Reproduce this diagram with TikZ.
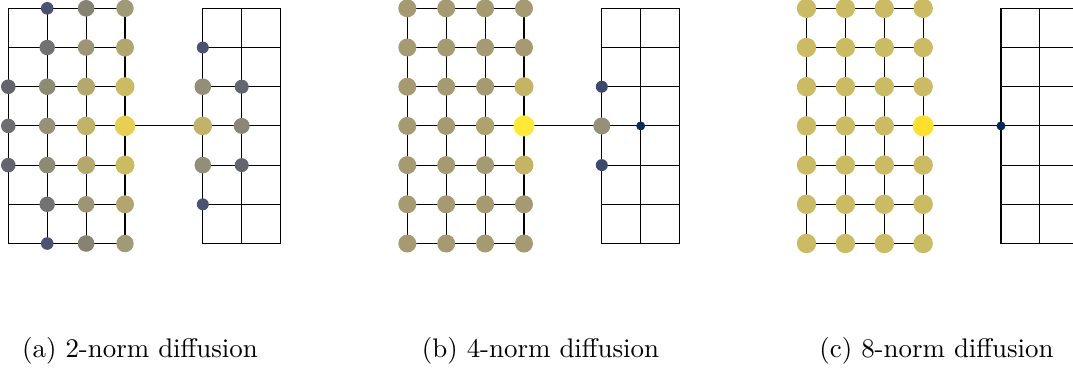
\documentclass[tikz,border=0pt]{standalone}
\definecolor{aA}{HTML}{4B5272}
\definecolor{aB}{HTML}{878372}
\definecolor{aC}{HTML}{A19A76}
\definecolor{aD}{HTML}{717274}
\definecolor{aE}{HTML}{9D9576}
\definecolor{aF}{HTML}{B2A66E}
\definecolor{aG}{HTML}{62646E}
\definecolor{aH}{HTML}{8E8A74}
\definecolor{aI}{HTML}{B5A86C}
\definecolor{aJ}{HTML}{CBBB62}
\definecolor{aK}{HTML}{6E6E70}
\definecolor{aL}{HTML}{999176}
\definecolor{aM}{HTML}{C2B36A}
\definecolor{aN}{HTML}{E6CF52}
\definecolor{aP}{HTML}{938E78}
\definecolor{aQ}{HTML}{C3B26A}
\definecolor{aR}{HTML}{62666F}
\definecolor{aS}{HTML}{8B8776}
\definecolor{bA}{HTML}{A59A72}
\definecolor{bB}{HTML}{C5B466}
\definecolor{bC}{HTML}{FFE838}
\definecolor{bD}{HTML}{AEA36E}
\definecolor{bE}{HTML}{3D4A6E}
\definecolor{bF}{HTML}{979079}
\definecolor{bG}{HTML}{0A2A5A}
\definecolor{cA}{HTML}{CBBB65}
\definecolor{cB}{HTML}{FFE030}
\definecolor{cC}{HTML}{00285A}
\tikzset{
  gridline/.style={line width=0.4pt, black},
  dot/.style 2 args={circle, fill=#1, draw=none, inner sep=0pt, minimum size=#2*0.7434pt},
  captext/.style={anchor=base, font=\normalsize},
  panelgrid/.style={x=14.459pt, y=-14.571pt}
}
\newcommand{\mkgrid}[1]{%
  \foreach \i in {0,...,3}{\foreach \j in {0,...,6}{\coordinate (#1-L-\i-\j) at (\i,\j);}}
  \foreach \i in {5,6,7}{\foreach \j in {0,...,6}{\coordinate (#1-R-\i-\j) at (\i,\j);}}
  \foreach \i in {0,...,3}{\draw[gridline] (#1-L-\i-0) -- (#1-L-\i-6);}
  \foreach \j in {0,...,6}{\draw[gridline] (#1-L-0-\j) -- (#1-L-3-\j);}
  \foreach \i in {5,6,7}{\draw[gridline] (#1-R-\i-0) -- (#1-R-\i-6);}
  \foreach \j in {0,...,6}{\draw[gridline] (#1-R-5-\j) -- (#1-R-7-\j);}
  \draw[gridline] (#1-L-3-3) -- (#1-R-5-3);
}
\begin{document}
\begin{tikzpicture}[x=0.3717pt, y=-0.3717pt]
\useasboundingbox (0,0) rectangle (1073,370);
% panel a
\begin{scope}[shift={(8.3,8.3)}, panelgrid]
  \mkgrid{a}
  \foreach \s/\i/\j/\c/\r in {
    L/1/0/aA/6.3, L/2/0/aB/8.3, L/3/0/aC/8.7,
    L/1/1/aD/7.7, L/2/1/aE/8.3, L/3/1/aF/9,
    L/0/2/aG/7.3, L/1/2/aH/8.3, L/2/2/aI/9, L/3/2/aJ/9.5,
    L/0/3/aK/7.3, L/1/3/aL/8.3, L/2/3/aM/9.3, L/3/3/aN/10.3,
    L/0/4/aG/7.3, L/1/4/aH/8.3, L/2/4/aI/9, L/3/4/aJ/9.5,
    L/1/5/aD/7.7, L/2/5/aE/8.3, L/3/5/aF/9,
    L/1/6/aA/6.3, L/2/6/aB/8.3, L/3/6/aC/8.7,
    R/5/1/aA/6, R/5/2/aP/8.3, R/5/3/aQ/9.3, R/5/4/aP/8.3, R/5/5/aA/6,
    R/6/2/aR/7, R/6/3/aS/8, R/6/4/aR/7}
    {\node[dot={\c}{\r}] (a-d\s-\i-\j) at (a-\s-\i-\j) {};}
\end{scope}
% panel b
\begin{scope}[shift={(407.3,8.3)}, panelgrid]
  \mkgrid{b}
  \foreach \i in {0,1,2}{\foreach \j in {0,...,6}{\node[dot={bA}{9}] (b-dL-\i-\j) at (b-L-\i-\j) {};}}
  \foreach \s/\i/\j/\c/\r in {
    L/3/0/bA/9, L/3/1/bA/9, L/3/2/bB/9.5, L/3/3/bC/10.5, L/3/4/bB/9.5, L/3/5/bA/9, L/3/6/bA/9,
    R/5/2/bE/6, R/5/3/bF/8.5, R/5/4/bE/6, R/6/3/bG/4.5}
    {\node[dot={\c}{\r}] (b-d\s-\i-\j) at (b-\s-\i-\j) {};}
  \node[dot={bD}{9.2}] (b-dL-2-3x) at (b-L-2-3) {};
\end{scope}
% panel c
\begin{scope}[shift={(806.5,8.3)}, panelgrid]
  \mkgrid{c}
  \foreach \i in {0,...,3}{\foreach \j in {0,...,6}{\node[dot={cA}{9.7}] (c-dL-\i-\j) at (c-L-\i-\j) {};}}
  \node[dot={cB}{10.5}] (c-dL-3-3x) at (c-L-3-3) {};
  \node[dot={cC}{4.5}] (c-dR-5-3) at (c-R-5-3) {};
\end{scope}
\node[captext] (capa) at (140,357) {(a) 2-norm diffusion};
\node[captext] (capb) at (540.5,357) {(b) 4-norm diffusion};
\node[captext] (capc) at (936.5,357) {(c) 8-norm diffusion};
\end{tikzpicture}
\end{document}
